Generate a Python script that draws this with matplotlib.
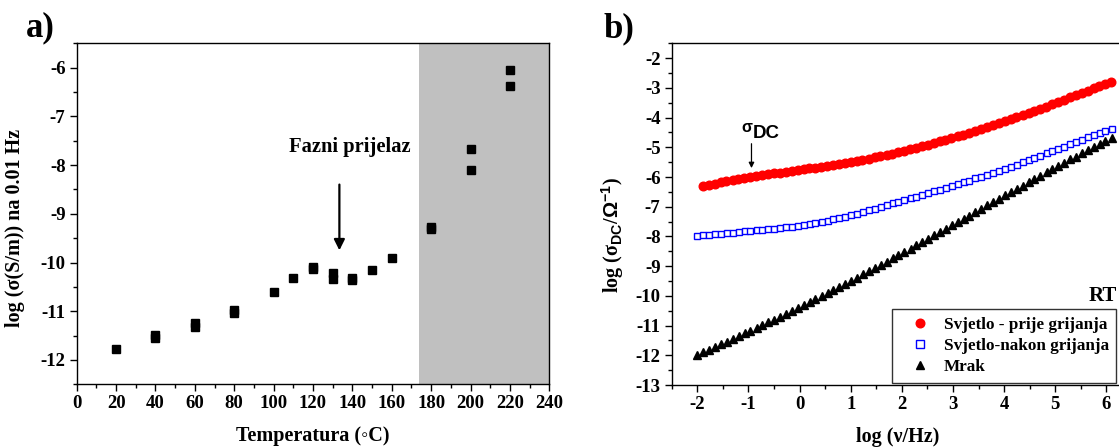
import matplotlib
matplotlib.use("Agg")
import matplotlib.pyplot as plt
from matplotlib.ticker import MultipleLocator
from matplotlib.lines import Line2D

# ---------------- data: panel a ----------------
temperature = [20, 40, 40, 60, 60, 80, 80, 100, 110, 120, 120, 130, 130,
               140, 140, 150, 160, 180, 180, 200, 200, 220, 220]
log_sigma = [-11.78, -11.48, -11.55, -11.25, -11.32, -10.98, -11.04, -10.60,
             -10.31, -10.09, -10.13, -10.21, -10.33, -10.31, -10.36, -10.16,
             -9.91, -9.28, -9.32, -7.66, -8.11, -6.04, -6.38]
shade_range = [174, 240]

# ---------------- data: panel b ----------------
logf_red = [-1.89, -1.77, -1.66, -1.54, -1.43, -1.31, -1.20, -1.08, -0.96, -0.85,
            -0.73, -0.62, -0.50, -0.39, -0.27, -0.15, -0.04, 0.08, 0.19, 0.31,
            0.42, 0.54, 0.66, 0.77, 0.89, 1.00, 1.12, 1.23, 1.35, 1.47,
            1.58, 1.70, 1.81, 1.93, 2.04, 2.16, 2.28, 2.39, 2.51, 2.62,
            2.74, 2.85, 2.97, 3.09, 3.20, 3.32, 3.43, 3.55, 3.67, 3.78,
            3.90, 4.01, 4.13, 4.24, 4.36, 4.48, 4.59, 4.71, 4.82, 4.94,
            5.05, 5.17, 5.29, 5.40, 5.52, 5.63, 5.75, 5.86, 5.98, 6.09]
sig_light_before = [-6.30, -6.26, -6.22, -6.18, -6.15, -6.11, -6.08, -6.04, -6.00, -5.97,
                    -5.94, -5.91, -5.88, -5.85, -5.83, -5.80, -5.77, -5.74, -5.71, -5.68,
                    -5.65, -5.62, -5.59, -5.56, -5.52, -5.49, -5.45, -5.42, -5.38, -5.34,
                    -5.30, -5.26, -5.21, -5.17, -5.12, -5.07, -5.02, -4.97, -4.91, -4.86,
                    -4.80, -4.75, -4.69, -4.63, -4.58, -4.52, -4.46, -4.40, -4.33, -4.26,
                    -4.19, -4.12, -4.05, -3.98, -3.91, -3.84, -3.77, -3.70, -3.63, -3.55,
                    -3.48, -3.40, -3.32, -3.25, -3.17, -3.10, -3.02, -2.94, -2.87, -2.79]

logf = [-2.00, -1.88, -1.77, -1.65, -1.54, -1.42, -1.31, -1.19, -1.07, -0.96,
        -0.84, -0.73, -0.61, -0.50, -0.38, -0.26, -0.15, -0.03, 0.08, 0.20,
        0.31, 0.43, 0.55, 0.66, 0.78, 0.89, 1.01, 1.12, 1.24, 1.36,
        1.47, 1.59, 1.70, 1.82, 1.93, 2.05, 2.17, 2.28, 2.40, 2.51,
        2.63, 2.74, 2.86, 2.98, 3.09, 3.21, 3.32, 3.44, 3.55, 3.67,
        3.79, 3.90, 4.02, 4.13, 4.25, 4.36, 4.48, 4.59, 4.71, 4.83,
        4.94, 5.06, 5.17, 5.29, 5.40, 5.52, 5.64, 5.75, 5.87, 5.98, 6.10]
sig_light_after = [-7.98, -7.96, -7.94, -7.92, -7.91, -7.89, -7.87, -7.85, -7.83, -7.81,
                   -7.79, -7.78, -7.76, -7.74, -7.72, -7.69, -7.67, -7.64, -7.62, -7.58,
                   -7.55, -7.51, -7.47, -7.43, -7.38, -7.34, -7.29, -7.23, -7.17, -7.12,
                   -7.06, -7.01, -6.95, -6.89, -6.84, -6.78, -6.72, -6.66, -6.60, -6.54,
                   -6.48, -6.43, -6.36, -6.30, -6.24, -6.18, -6.12, -6.05, -5.99, -5.92,
                   -5.85, -5.79, -5.72, -5.65, -5.58, -5.51, -5.43, -5.36, -5.28, -5.20,
                   -5.13, -5.05, -4.98, -4.90, -4.83, -4.75, -4.67, -4.60, -4.53, -4.46, -4.39]
sig_dark = [-11.99, -11.90, -11.81, -11.72, -11.63, -11.54, -11.45, -11.35, -11.26, -11.17,
            -11.07, -10.98, -10.89, -10.80, -10.70, -10.60, -10.51, -10.41, -10.32, -10.21,
            -10.12, -10.01, -9.91, -9.81, -9.70, -9.60, -9.49, -9.39, -9.28, -9.17,
            -9.07, -8.96, -8.85, -8.74, -8.64, -8.52, -8.41, -8.30, -8.19, -8.08,
            -7.96, -7.86, -7.75, -7.63, -7.52, -7.40, -7.30, -7.18, -7.07, -6.95,
            -6.84, -6.73, -6.62, -6.51, -6.40, -6.29, -6.18, -6.07, -5.96, -5.84,
            -5.74, -5.62, -5.52, -5.41, -5.31, -5.20, -5.10, -5.00, -4.89, -4.79, -4.70]

series_labels = ["Svjetlo - prije grijanja", "Svjetlo-nakon grijanja", "Mrak"]

# ---------------- style ----------------
plt.rcParams['font.family'] = ['Liberation Serif', 'DejaVu Sans']
plt.rcParams['font.weight'] = 'bold'
plt.rcParams['axes.labelweight'] = 'bold'
plt.rcParams['axes.unicode_minus'] = False
plt.rcParams['mathtext.fontset'] = 'custom'
plt.rcParams['mathtext.rm'] = 'Liberation Sans:bold'
plt.rcParams['mathtext.it'] = 'Liberation Sans:bold'
plt.rcParams['mathtext.bf'] = 'Liberation Sans:bold'

fig = plt.figure(figsize=(11.19, 4.48), dpi=100)

W, H = 1119.0, 448.0
axA = fig.add_axes([76.7 / W, 1 - 384.3 / H, (549.3 - 76.7) / W, (384.3 - 43.3) / H])
axB = fig.add_axes([671.7 / W, 1 - 385.0 / H, (1132.0 - 671.7) / W, (385.0 - 43.3) / H])

TICK_FS = 13.5
LABEL_FS = 14.5

def style_axes(ax):
    for s in ax.spines.values():
        s.set_linewidth(1.0)
        s.set_color('black')
    ax.tick_params(which='both', direction='out', width=1.0, labelsize=TICK_FS,
                   top=False, right=False)
    ax.tick_params(which='major', length=5, pad=3)
    ax.tick_params(which='minor', length=3)
    for lab in ax.get_xticklabels() + ax.get_yticklabels():
        lab.set_fontweight('bold')

# ---------------- panel a ----------------
axA.axvspan(shade_range[0], shade_range[1], color='#c0c0c0', zorder=0, lw=0)
axA.plot(temperature, log_sigma, linestyle='none', marker='s', ms=6,
         color='black', zorder=3)
axA.set_xlim(0, 240)
axA.set_ylim(-12.5, -5.5)
axA.xaxis.set_major_locator(MultipleLocator(20))
axA.xaxis.set_minor_locator(MultipleLocator(10))
axA.yaxis.set_major_locator(MultipleLocator(1))
axA.yaxis.set_minor_locator(MultipleLocator(0.5))
style_axes(axA)
axA.set_xlabel('Temperatura (◦C)', fontsize=LABEL_FS)
axA.set_ylabel('log (σ(S/m)) na 0.01 Hz', fontsize=LABEL_FS)
axA.xaxis.set_label_coords(0.5, -0.122)
axA.yaxis.set_label_coords(-0.109, 0.458)
axA.annotate('', xy=(133.4, -9.75), xytext=(133.4, -8.40),
             arrowprops=dict(arrowstyle='-|>', color='black', lw=1.6,
                             mutation_scale=16, shrinkA=0, shrinkB=0))
axA.text(138.8, -7.62, 'Fazni prijelaz', ha='center', va='center',
         fontsize=14.8, fontweight='bold')
fig.text(40 / W, 1 - 28 / H, 'a)', ha='center', va='center', fontsize=25,
         fontweight='bold')

# ---------------- panel b ----------------
axB.plot(logf_red, sig_light_before, linestyle='none', marker='o', ms=6.2,
         color='red', mec='red', zorder=3)
axB.plot(logf, sig_light_after, linestyle='none', marker='s', ms=4.6,
         mfc='white', mec='blue', mew=1.0, zorder=3)
axB.plot(logf, sig_dark, linestyle='none', marker='^', ms=5.3,
         color='black', zorder=3)
axB.set_xlim(-2.5, 6.5)
axB.set_ylim(-13, -1.5)
axB.xaxis.set_major_locator(MultipleLocator(1))
axB.xaxis.set_minor_locator(MultipleLocator(0.5))
axB.yaxis.set_major_locator(MultipleLocator(1))
axB.yaxis.set_minor_locator(MultipleLocator(0.5))
style_axes(axB)
axB.set_xlabel('log (ν/Hz)', fontsize=LABEL_FS)
axB.set_ylabel('log (σ$_{DC}$/$\\Omega^{-1}$)', fontsize=LABEL_FS)
axB.xaxis.set_label_coords(0.49, -0.122)
axB.yaxis.set_label_coords(-0.099, 0.44)

axB.text(-1.14, -4.35, 'σ', family='Liberation Sans', fontweight='bold',
         fontsize=11.5, ha='left', va='center')
axB.text(-0.92, -4.55, 'DC', family='Liberation Sans', fontweight='bold',
         fontsize=13.5, ha='left', va='center')
axB.annotate('', xy=(-0.94, -5.70), xytext=(-0.94, -4.88),
             arrowprops=dict(arrowstyle='-|>', color='black', lw=0.9,
                             mutation_scale=8, shrinkA=0, shrinkB=0))
axB.text(5.66, -10.0, 'RT', fontsize=15, fontweight='bold', ha='left', va='center')

handles = [
    Line2D([], [], linestyle='none', marker='o', ms=6.2, color='red'),
    Line2D([], [], linestyle='none', marker='s', ms=5.5, mfc='white', mec='blue', mew=1.0),
    Line2D([], [], linestyle='none', marker='^', ms=6, color='black'),
]
leg = axB.legend(handles, series_labels, loc='lower left',
                 bbox_to_anchor=(892.3 / W, 1 - 382.5 / H),
                 bbox_transform=fig.transFigure, borderaxespad=0,
                 frameon=True, fancybox=False, edgecolor='black',
                 prop={'family': 'Liberation Serif', 'weight': 'bold', 'size': 12.3},
                 handlelength=2.35, handletextpad=0.2, labelspacing=0.3,
                 borderpad=0.45)
leg.get_frame().set_linewidth(1.0)
fig.text(619 / W, 1 - 29 / H, 'b)', ha='center', va='center', fontsize=25,
         fontweight='bold')

fig.savefig('out.png', dpi=100)
